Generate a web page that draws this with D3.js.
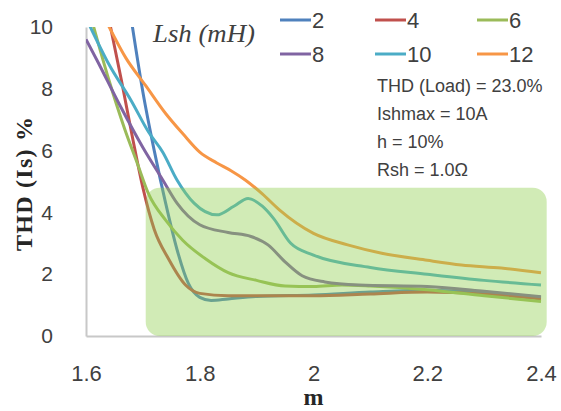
<!DOCTYPE html>
<html>
<head>
<meta charset="utf-8">
<script src="https://cdn.jsdelivr.net/npm/d3@7"></script>
<style>
  html, body { margin: 0; padding: 0; background: #fff; }
  svg { display: block; }
</style>
</head>
<body>
<svg id="chart" width="561" height="411"></svg>
<script>
// THD of source current versus modulation index m, for several shunt inductances
const inductances = ["2", "4", "6", "8", "10", "12"];
const seriesColors = ["#4F81BD", "#C0504D", "#9BBB59", "#8064A2", "#4BACC6", "#F79646"];

const m2  = [1.68, 1.70, 1.72, 1.74, 1.76, 1.78, 1.80, 1.82, 1.85, 1.90, 2.00, 2.10, 2.20, 2.30, 2.40];
const thd2 = [10.2, 7.9, 6.0, 4.3, 2.8, 1.7, 1.25, 1.15, 1.2, 1.28, 1.33, 1.42, 1.48, 1.4, 1.25];

const m4  = [1.642, 1.662, 1.682, 1.70, 1.72, 1.745, 1.775, 1.80, 1.85, 1.90, 2.00, 2.10, 2.20, 2.30, 2.40];
const thd4 = [10.1, 8.3, 6.4, 4.8, 3.45, 2.5, 1.65, 1.38, 1.3, 1.3, 1.3, 1.36, 1.42, 1.35, 1.2];

const m6  = [1.612, 1.64, 1.668, 1.69, 1.71, 1.74, 1.77, 1.81, 1.85, 1.90, 1.95, 2.00, 2.05, 2.10, 2.20, 2.30, 2.40];
const thd6 = [10.1, 8.3, 6.7, 5.6, 4.6, 3.75, 3.1, 2.5, 2.05, 1.8, 1.62, 1.6, 1.65, 1.62, 1.5, 1.3, 1.12];

const m8  = [1.60, 1.62, 1.66, 1.70, 1.735, 1.76, 1.80, 1.85, 1.89, 1.92, 1.95, 1.98, 2.02, 2.08, 2.20, 2.30, 2.40];
const thd8 = [9.6, 8.9, 7.45, 6.1, 5.05, 4.3, 3.6, 3.35, 3.22, 2.95, 2.4, 1.95, 1.75, 1.65, 1.6, 1.45, 1.27];

const m10  = [1.605, 1.64, 1.68, 1.71, 1.735, 1.76, 1.79, 1.83, 1.86, 1.885, 1.91, 1.93, 1.96, 2.00, 2.10, 2.20, 2.30, 2.40];
const thd10 = [10.1, 8.8, 7.6, 6.6, 5.95, 5.05, 4.3, 3.92, 4.2, 4.45, 4.2, 3.8, 3.0, 2.62, 2.22, 2.0, 1.8, 1.65];

const m12  = [1.638, 1.67, 1.705, 1.74, 1.77, 1.80, 1.83, 1.855, 1.88, 1.91, 1.94, 2.00, 2.06, 2.12, 2.20, 2.26, 2.33, 2.40];
const thd12 = [10.1, 9.0, 8.1, 7.2, 6.55, 5.95, 5.6, 5.35, 5.05, 4.6, 4.08, 3.32, 2.95, 2.68, 2.45, 2.3, 2.2, 2.05];

const seriesM = [m2, m4, m6, m8, m10, m12];
const seriesThd = [thd2, thd4, thd6, thd8, thd10, thd12];

const xTicks = [1.6, 1.8, 2.0, 2.2, 2.4];
const xTickLabels = ["1.6", "1.8", "2", "2.2", "2.4"];
const yTicks = [0, 2, 4, 6, 8, 10];

// Operating region highlighted on the plot (m range, THD range)
const regionM = [1.705, 2.41];
const regionThd = [0, 4.8];

const notes = ["THD (Load) = 23.0%", "Ishmax = 10A", "h = 10%", "Rsh = 1.0\u03A9"];

const svg = d3.select("#chart");
const x = d3.scaleLinear().domain([1.6, 2.4]).range([86, 541]);
const y = d3.scaleLinear().domain([0, 10]).range([336, 27]);

svg.append("defs").append("clipPath").attr("id", "plotClip")
  .append("rect")
  .attr("x", x(1.6)).attr("y", y(10))
  .attr("width", x(2.4) - x(1.6) + 4).attr("height", y(0) - y(10));

// Axes
const xAxis = d3.axisBottom(x).tickValues(xTicks)
  .tickFormat((d, i) => xTickLabels[i]).tickSize(0).tickPadding(29);
const gx = svg.append("g").attr("transform", `translate(0,${y(0)})`).call(xAxis);
gx.select(".domain").attr("stroke", "#c8c8c8").attr("stroke-width", 2);
gx.selectAll("text").attr("font-family", "'Liberation Sans', Arial, sans-serif")
  .attr("font-size", 22).attr("fill", "#404040");

const yAxis = d3.axisLeft(y).tickValues(yTicks).tickSize(0).tickPadding(33);
const gy = svg.append("g").attr("transform", `translate(${x(1.6)},0)`).call(yAxis);
gy.select(".domain").attr("stroke", "#c8c8c8").attr("stroke-width", 2);
gy.selectAll("text").attr("font-family", "'Liberation Sans', Arial, sans-serif")
  .attr("font-size", 21).attr("fill", "#404040");

// Series lines
const line = d3.line()
  .x(d => x(d[0])).y(d => y(d[1]))
  .curve(d3.curveMonotoneX);

const plot = svg.append("g").attr("clip-path", "url(#plotClip)");
seriesM.forEach((ms, i) => {
  const pts = ms.map((m, j) => [m, seriesThd[i][j]]);
  plot.append("path")
    .datum(pts)
    .attr("d", line)
    .attr("fill", "none")
    .attr("stroke", seriesColors[i])
    .attr("stroke-width", 3)
    .attr("stroke-linejoin", "round");
});

// Highlighted region, laid over the curves
svg.append("rect")
  .attr("x", x(regionM[0])).attr("y", y(regionThd[1]))
  .attr("width", x(regionM[1]) - x(regionM[0]))
  .attr("height", y(regionThd[0]) - y(regionThd[1]))
  .attr("rx", 14).attr("ry", 14)
  .attr("fill", "#92D050").attr("fill-opacity", 0.42);

// Axis titles
svg.append("text")
  .attr("x", x(2.0)).attr("y", 405)
  .attr("text-anchor", "middle")
  .attr("font-family", "'Liberation Serif', 'Times New Roman', serif")
  .attr("font-weight", "bold").attr("font-size", 24).attr("fill", "#262626")
  .text("m");

svg.append("text")
  .attr("transform", "translate(32,184) rotate(-90)")
  .attr("text-anchor", "middle")
  .attr("font-family", "'Liberation Serif', 'Times New Roman', serif")
  .attr("font-weight", "bold").attr("font-size", 24).attr("fill", "#262626")
  .attr("textLength", 134).attr("lengthAdjust", "spacing")
  .text("THD (Is) %");

// Legend
svg.append("text")
  .attr("x", 153).attr("y", 42)
  .attr("font-family", "'Liberation Serif', 'Times New Roman', serif")
  .attr("font-style", "italic").attr("font-size", 25).attr("fill", "#404040")
  .attr("textLength", 102).attr("lengthAdjust", "spacingAndGlyphs")
  .text("Lsh (mH)");

const legX = [280, 375, 477];
const legY = [20, 54];
inductances.forEach((name, i) => {
  const col = i % 3, row = Math.floor(i / 3);
  const g = svg.append("g").attr("transform", `translate(${legX[col]},${legY[row]})`);
  g.append("line").attr("x1", 0).attr("x2", 31).attr("y1", 0).attr("y2", 0)
    .attr("stroke", seriesColors[i]).attr("stroke-width", 3);
  g.append("text").attr("x", 32).attr("y", 8)
    .attr("font-family", "'Liberation Sans', Arial, sans-serif")
    .attr("font-size", 22).attr("fill", "#404040")
    .text(name);
});

// Operating conditions
notes.forEach((t, i) => {
  svg.append("text")
    .attr("x", 377).attr("y", 92 + i * 28)
    .attr("font-family", "'Liberation Sans', Arial, sans-serif")
    .attr("font-size", 18).attr("fill", "#404040")
    .text(t);
});
</script>
</body>
</html>
